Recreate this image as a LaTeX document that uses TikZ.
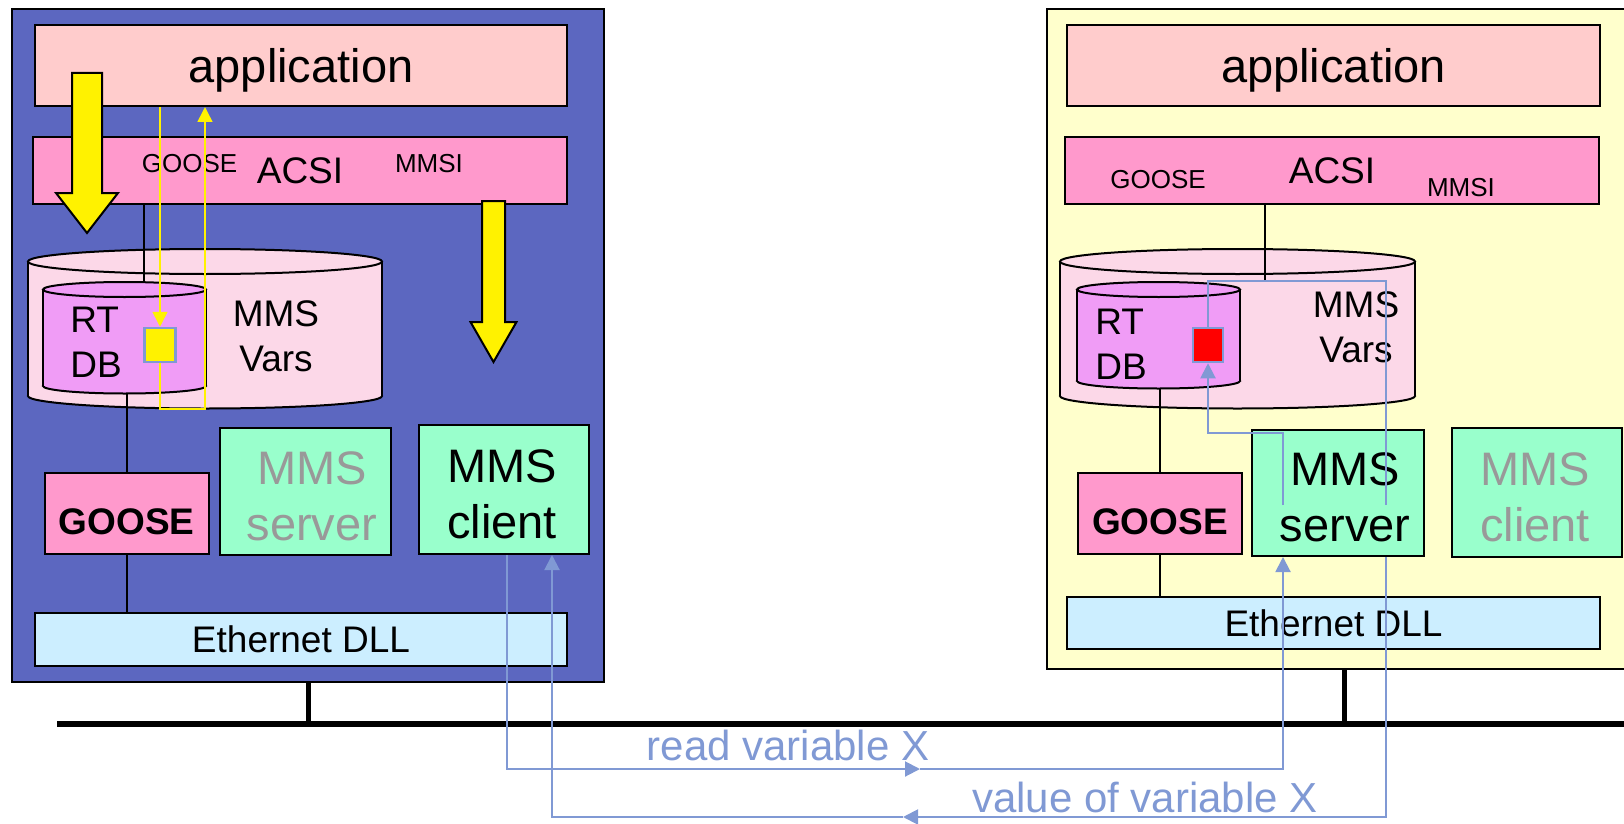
\documentclass[tikz,border=0pt]{standalone}
\usepackage{fontspec}
\setmainfont{Liberation Sans}
\usetikzlibrary{arrows.meta}
\definecolor{panelblue}{RGB}{92,103,192}
\definecolor{panelyellow}{RGB}{255,255,204}
\definecolor{appcol}{RGB}{255,204,204}
\definecolor{acsicol}{RGB}{255,153,204}
\definecolor{varscol}{RGB}{252,216,232}
\definecolor{rtdbcol}{RGB}{240,156,246}
\definecolor{mmscol}{RGB}{153,255,204}
\definecolor{ethcol}{RGB}{204,238,255}
\definecolor{msgblue}{RGB}{128,153,212}
\definecolor{dimgray}{RGB}{153,153,153}

% big yellow arrow: centre x, top, neck, tip, half shaft, half head
\newcommand{\fatarrow}[6]{\filldraw[fill=yellow, line width=2pt] (#1-#5,#2) -- (#1+#5,#2) -- (#1+#5,#3) -- (#1+#6,#3) -- (#1,#4) -- (#1-#6,#3) -- (#1-#5,#3) -- cycle;}
% database drum: left, right, top y, bottom y, y radius, fill
\newcommand{\drum}[6]{%
  \filldraw[fill=#6, line width=2pt] ({(#1+#2)/2},#4) ellipse [x radius={(#2-#1)/2}, y radius=#5];
  \fill[#6] (#1,#3) rectangle (#2,#4);
  \draw[line width=2pt] (#1,#3) -- (#1,#4) (#2,#3) -- (#2,#4);
  \filldraw[fill=#6, line width=2pt] ({(#1+#2)/2},#3) ellipse [x radius={(#2-#1)/2}, y radius=#5];}

\begin{document}
\begin{tikzpicture}[x=1pt, y=-1pt, >={Triangle[length=15pt,width=15pt]},
  panel/.style = {shape=rectangle, draw, line width=2pt, inner sep=0pt},
  box/.style = {shape=rectangle, draw, line width=2pt, inner sep=0pt, align=center},
  big/.style = {font=\fontsize{47}{56}\selectfont},
  mid/.style = {font=\fontsize{37}{45}\selectfont},
  small/.style = {font=\fontsize{26}{30}\selectfont},
  msg/.style = {font=\fontsize{42}{50}\selectfont, text=msgblue},
  layer/.style = {box, mid, minimum width=533pt},
  appbox/.style = {layer, big, fill=appcol, minimum height=81pt, text depth=0pt},
  mmsbox/.style = {box, fill=mmscol, minimum width=171pt, minimum height=127pt},
  mmstext/.style = {big, align=center},
  goosebox/.style = {box, fill=acsicol, minimum width=164pt, minimum height=81pt, text height=42pt, text depth=0pt, font=\fontsize{37}{45}\selectfont\bfseries},
  varsq/.style = {draw=msgblue, line width=2.5pt, minimum width=30pt, minimum height=34pt, inner sep=0pt},
  conn/.style = {line width=2pt},
  yline/.style = {draw=yellow, line width=1.5pt},
  bline/.style = {draw=msgblue, line width=2pt}]
\useasboundingbox (0,0) rectangle (1624,824);

% network
\coordinate (busL) at (57,724);
\coordinate (busR) at (1640,724);
\draw[line width=6pt] (busL) -- (busR);

% left device (client side)
\node[panel, fill=panelblue, minimum width=592pt, minimum height=673pt] (panelL) at (308,345.5) {};
\draw[line width=5pt] (panelL.south) -- (panelL.south |- busL);
\node[appbox, minimum width=532pt] (appL) at (301,65.5) {application};
\node[layer, fill=acsicol, minimum width=534pt, minimum height=67pt] (acsiL) at (300,170.5) {ACSI};
\node[small] (acsigooseL) at (189.5,164) {GOOSE};
\node[small] (acsimmsiL) at (429,164) {MMSI};
\drum{28}{382}{261.5}{396}{12.5}{varscol}
\drum{43}{206}{289.5}{386}{7.5}{rtdbcol}
\coordinate (rtdbL-n) at (144,282);
\coordinate (rtdbL-s) at (126.5,393.5);
\node[mid, align=center] (varsL) at (276,336) {MMS\\Vars};
\node[mid, align=left] (rtdbL) at (96,342) {RT\\DB};
\node[goosebox] (gooseL) at (126.5,513.5) {GOOSE};
\node[mmsbox] (serverL) at (305.5,491) {};
\node[mmstext, text=dimgray] (serverLtxt) at (312,496) {MMS\\server};
\node[mmsbox, minimum width=170pt, minimum height=129pt] (clientL) at (504,489.5) {};
\node[mmstext] (clientLtxt) at (502,494.5) {MMS\\client};
\node[layer, fill=ethcol, minimum width=532pt, minimum height=53pt] (ethL) at (301,639.5) {Ethernet DLL};

\draw[conn] (acsiL.south -| rtdbL-n) -- (rtdbL-n);
\draw[conn] (rtdbL-s) -- (gooseL.north);
\draw[conn] (gooseL.south) -- (gooseL.south |- ethL.north);

\fatarrow{87}{73}{193}{233}{15}{31}
\fatarrow{493.5}{201}{322}{362}{11.5}{23}

\node[varsq, fill=yellow, minimum width=31pt] (sqL) at (160,345) {};
\coordinate (loopL) at (205,409);
\draw[yline, ->] (appL.south -| sqL) -- (sqL.north);
\draw[yline, ->] (sqL.south) |- (loopL) -- (loopL |- appL.south);

% right device (server side)
\node[panel, fill=panelyellow, minimum width=594pt, minimum height=660pt] (panelR) at (1344,339) {};
\draw[line width=5pt] (panelR.south) -- (panelR.south |- busL);
\node[appbox] (appR) at (1333.5,65.5) {application};
\node[layer, fill=acsicol, minimum width=534pt, minimum height=67pt] (acsiR) at (1332,170.5) {ACSI};
\node[small] (acsigooseR) at (1158,180) {GOOSE};
\node[small] (acsimmsiR) at (1461,188) {MMSI};
\drum{1060}{1415}{261.5}{396}{12.5}{varscol}
\drum{1077}{1240}{289.5}{381}{7.5}{rtdbcol}
\coordinate (acsiR-tap) at (1265,281);
\coordinate (rtdbR-s) at (1160,388.5);
\node[mid, align=center] (varsR) at (1356,327) {MMS\\Vars};
\node[mid, align=left] (rtdbR) at (1121,344) {RT\\DB};
\node[goosebox] (gooseR) at (1160,513.5) {GOOSE};
\node[mmsbox, minimum width=172pt, minimum height=126pt] (serverR) at (1338,493) {};
\node[mmstext] (serverRtxt) at (1345,497) {MMS\\server};
\node[mmsbox, minimum width=170pt, minimum height=129pt] (clientR) at (1537,492.5) {};
\node[mmstext, text=dimgray] (clientRtxt) at (1535,497) {MMS\\client};
\node[layer, fill=ethcol, minimum height=52pt] (ethR) at (1333.5,623) {Ethernet DLL};

\draw[conn] (acsiR.south -| acsiR-tap) -- (acsiR-tap);
\draw[conn] (rtdbR-s) -- (gooseR.north);
\draw[conn] (gooseR.south) -- (gooseR.south |- ethR.north);

\node[varsq, fill=red] (sqR) at (1208,345) {};
\coordinate (srvR-a) at (1283,505);
\coordinate (srvR-b) at (1386,505);
\draw[bline, ->] (srvR-a) -- ++(0,-72) -| (sqR.south);
\draw[bline] (srvR-b) -- ++(0,-224) -| (sqR.north);

% messages
\coordinate (readmid) at (920,769);
\coordinate (valmid) at (903,817);
\draw[bline, ->] ([xshift=3pt]clientL.south) |- (readmid);
\draw[bline, ->] (readmid) -| ([xshift=-55pt]serverR.south);
\draw[bline, ->] ([xshift=48pt]serverR.south) |- (valmid);
\draw[bline, ->] (valmid) -| ([xshift=48pt]clientL.south);
\node[msg] (readlbl) at (788,745) {read variable X};
\node[msg] (vallbl) at (1145,797) {value of variable X};
\end{tikzpicture}
\end{document}
